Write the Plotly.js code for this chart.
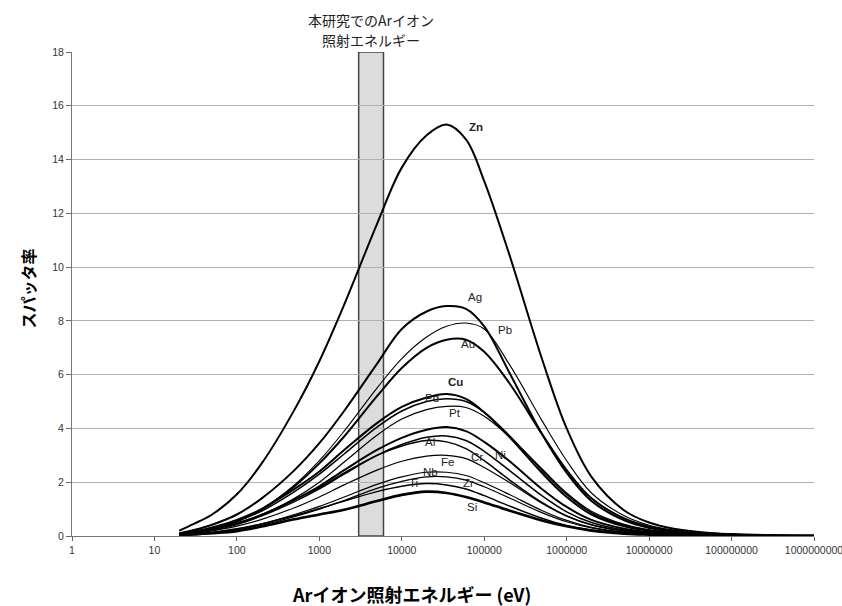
<!DOCTYPE html>
<html>
<head>
<meta charset="utf-8">
<script src="https://cdn.plot.ly/plotly-3.0.1.min.js"></script>
<style>html,body{margin:0;padding:0;background:#fff;}#chart{width:842px;height:606px;}</style>
</head>
<body>
<div id="chart"></div>
<script>
// Ar ion energy (eV)
const energy = [20, 30, 50, 100, 200, 500, 1000, 2000, 5000, 10000, 20000, 35000, 60000, 100000, 200000, 500000, 1e6, 2e6, 5e6, 1e7, 2e7, 5e7, 1e8, 3e8, 1e9];

const Zn = [0.2, 0.45, 0.8, 1.55, 2.7, 4.7, 6.5, 8.6, 11.6, 13.7, 14.9, 15.3, 14.75, 13.2, 10.5, 6.6, 4.0, 2.2, 0.95, 0.5, 0.27, 0.12, 0.07, 0.03, 0.01];
const Ag = [0.1, 0.22, 0.42, 0.8, 1.4, 2.45, 3.45, 4.65, 6.4, 7.7, 8.35, 8.55, 8.45, 7.8, 6.1, 3.8, 2.35, 1.3, 0.58, 0.3, 0.17, 0.08, 0.05, 0.02, 0.01];
const Pb = [0.05, 0.12, 0.25, 0.55, 1.0, 1.9, 2.8, 3.9, 5.5, 6.6, 7.4, 7.8, 7.92, 7.7, 6.4, 4.3, 2.8, 1.6, 0.75, 0.4, 0.22, 0.1, 0.06, 0.025, 0.01];
const Au = [0.05, 0.12, 0.25, 0.55, 1.0, 1.85, 2.7, 3.7, 5.2, 6.25, 7.0, 7.3, 7.3, 6.85, 5.7, 3.8, 2.45, 1.4, 0.65, 0.35, 0.19, 0.09, 0.05, 0.02, 0.01];
const Cu = [0.08, 0.17, 0.32, 0.6, 1.0, 1.75, 2.4, 3.2, 4.2, 4.8, 5.15, 5.28, 5.1, 4.6, 3.7, 2.35, 1.45, 0.8, 0.36, 0.19, 0.1, 0.05, 0.03, 0.012, 0.005];
const Pd = [0.06, 0.14, 0.28, 0.55, 0.93, 1.65, 2.3, 3.05, 4.05, 4.65, 5.0, 5.1, 5.0, 4.6, 3.75, 2.45, 1.55, 0.87, 0.4, 0.21, 0.11, 0.05, 0.03, 0.013, 0.005];
const Pt = [0.04, 0.1, 0.2, 0.42, 0.76, 1.4, 2.0, 2.75, 3.75, 4.35, 4.7, 4.82, 4.78, 4.45, 3.7, 2.5, 1.6, 0.92, 0.43, 0.23, 0.12, 0.06, 0.035, 0.015, 0.006];
const Ni = [0.06, 0.13, 0.25, 0.47, 0.78, 1.35, 1.85, 2.45, 3.2, 3.65, 3.95, 4.05, 3.9, 3.5, 2.8, 1.75, 1.08, 0.6, 0.27, 0.14, 0.075, 0.035, 0.02, 0.008, 0.003];
const Cr = [0.05, 0.12, 0.24, 0.45, 0.75, 1.28, 1.75, 2.3, 3.0, 3.4, 3.67, 3.72, 3.55, 3.15, 2.45, 1.5, 0.9, 0.5, 0.22, 0.12, 0.06, 0.03, 0.017, 0.007, 0.003];
const Al = [0.05, 0.12, 0.25, 0.48, 0.8, 1.35, 1.8, 2.35, 3.0, 3.35, 3.55, 3.5, 3.25, 2.8, 2.1, 1.25, 0.75, 0.42, 0.19, 0.1, 0.05, 0.025, 0.014, 0.006, 0.002];
const Fe = [0.04, 0.1, 0.2, 0.37, 0.62, 1.05, 1.45, 1.9, 2.45, 2.78, 2.97, 3.0, 2.88, 2.55, 2.0, 1.22, 0.74, 0.41, 0.18, 0.1, 0.05, 0.025, 0.014, 0.006, 0.002];
const Nb = [0.02, 0.06, 0.13, 0.26, 0.45, 0.8, 1.1, 1.45, 1.92, 2.2, 2.37, 2.37, 2.25, 1.98, 1.55, 0.95, 0.58, 0.32, 0.14, 0.08, 0.04, 0.02, 0.011, 0.005, 0.002];
const Zr = [0.02, 0.05, 0.11, 0.23, 0.4, 0.72, 1.0, 1.32, 1.77, 2.03, 2.2, 2.2, 2.08, 1.83, 1.42, 0.87, 0.53, 0.3, 0.13, 0.07, 0.037, 0.018, 0.01, 0.004, 0.002];
const Ti = [0.03, 0.07, 0.14, 0.27, 0.45, 0.76, 1.02, 1.3, 1.65, 1.85, 1.95, 1.9, 1.75, 1.5, 1.12, 0.66, 0.39, 0.22, 0.1, 0.05, 0.027, 0.013, 0.007, 0.003, 0.001];
const Si = [0.03, 0.06, 0.1, 0.18, 0.35, 0.62, 0.8, 0.98, 1.3, 1.53, 1.65, 1.6, 1.45, 1.25, 0.95, 0.58, 0.36, 0.2, 0.09, 0.05, 0.025, 0.012, 0.007, 0.003, 0.001];

const seriesNames = ["Zn", "Ag", "Pb", "Au", "Cu", "Pd", "Pt", "Ni", "Cr", "Al", "Fe", "Nb", "Zr", "Ti", "Si"];
const seriesValues = [Zn, Ag, Pb, Au, Cu, Pd, Pt, Ni, Cr, Al, Fe, Nb, Zr, Ti, Si];
const lineWidths = [2, 2, 1.1, 2, 2, 1.5, 1.2, 2, 1.5, 1.5, 1.2, 1.2, 1.2, 1.5, 2.6];

// label positions (log10 energy, yield)
const labelNames = ["Zn", "Ag", "Pb", "Au", "Cu", "Pd", "Pt", "Al", "Fe", "Cr", "Ni", "Nb", "Ti", "Zr", "Si"];
const labelLogE = [4.9, 4.89, 5.255, 4.806, 4.648, 4.369, 4.648, 4.345, 4.55, 4.915, 5.194, 4.345, 4.138, 4.806, 4.854];
const labelY = [15.2, 8.89, 7.66, 7.14, 5.73, 5.13, 4.57, 3.5, 2.75, 2.94, 3.01, 2.38, 1.97, 1.97, 1.08];
const boldLabels = ["Zn", "Cu"];

// study energy band (eV)
const bandRange = [3000, 6000];
const bandText = ["本研究でのArイオン", "照射エネルギー"];

const xTickVals = [1, 10, 100, 1000, 10000, 100000, 1000000, 10000000, 100000000, 1000000000];
const xTickText = ["1", "10", "100", "1000", "10000", "100000", "1000000", "10000000", "100000000", "1000000000"];

const traces = seriesValues.map((vals, i) => ({
  type: "scatter", mode: "lines", name: seriesNames[i],
  x: energy, y: vals,
  line: {color: "#000", width: lineWidths[i], shape: "spline", smoothing: 1},
  hoverinfo: "name+x+y"
}));

const annotations = labelNames.map((n, i) => ({
  x: labelLogE[i], y: labelY[i], xref: "x", yref: "y",
  text: boldLabels.includes(n) ? "<b>" + n + "</b>" : n,
  showarrow: false,
  font: {family: "Liberation Sans, Arial, sans-serif", size: 11.5, color: "#222"}
}));

const bandCenter = Math.log10(Math.sqrt(bandRange[0] * bandRange[1]));
annotations.push({x: bandCenter, y: 1.0661, xref: "x", yref: "paper", text: bandText[0], showarrow: false,
  yanchor: "middle", font: {family: "Noto Sans CJK JP, sans-serif", size: 14, color: "#222"}});
annotations.push({x: bandCenter, y: 1.0248, xref: "x", yref: "paper", text: bandText[1], showarrow: false,
  yanchor: "middle", font: {family: "Noto Sans CJK JP, sans-serif", size: 14, color: "#222"}});

// axis titles
annotations.push({x: 0.458, y: -0.1198, xref: "paper", yref: "paper", text: "<b>Arイオン照射エネルギー (eV)</b>",
  showarrow: false, yanchor: "middle", font: {family: "Noto Sans CJK JP, sans-serif", size: 18, color: "#000"}});
annotations.push({x: -0.059, y: 0.512, xref: "paper", yref: "paper", text: "<b>スパッタ率</b>", textangle: -90,
  showarrow: false, xanchor: "center", yanchor: "middle", font: {family: "Noto Sans CJK JP, sans-serif", size: 16, color: "#000"}});

const layout = {
  width: 842, height: 606,
  margin: {l: 72, r: 28, t: 52, b: 70},
  paper_bgcolor: "#fff", plot_bgcolor: "#fff",
  showlegend: false,
  xaxis: {
    type: "log", range: [0, 9],
    tickvals: xTickVals, ticktext: xTickText,
    ticks: "outside", ticklen: 4, tickcolor: "#666",
    ticklabeloverflow: "allow",
    showgrid: false, zeroline: false,
    showline: true, linecolor: "#777", linewidth: 1,
    tickfont: {family: "Liberation Sans, Arial, sans-serif", size: 10.5, color: "#333"}
  },
  yaxis: {
    range: [0, 18], dtick: 2, tick0: 0,
    ticks: "outside", ticklen: 5, tickcolor: "#666",
    showgrid: true, gridcolor: "#b0b0b0", gridwidth: 1,
    zeroline: false, showline: true, linecolor: "#777", linewidth: 1,
    tickfont: {family: "Liberation Sans, Arial, sans-serif", size: 10.5, color: "#333"}
  },
  shapes: [{
    type: "rect", xref: "x", yref: "y",
    x0: bandRange[0], x1: bandRange[1], y0: 0, y1: 18,
    fillcolor: "#dcdcdc", line: {color: "#444", width: 1.5}, layer: "below"
  }],
  annotations: annotations
};

Plotly.newPlot("chart", traces, layout, {displayModeBar: false, staticPlot: true});
</script>
</body>
</html>
